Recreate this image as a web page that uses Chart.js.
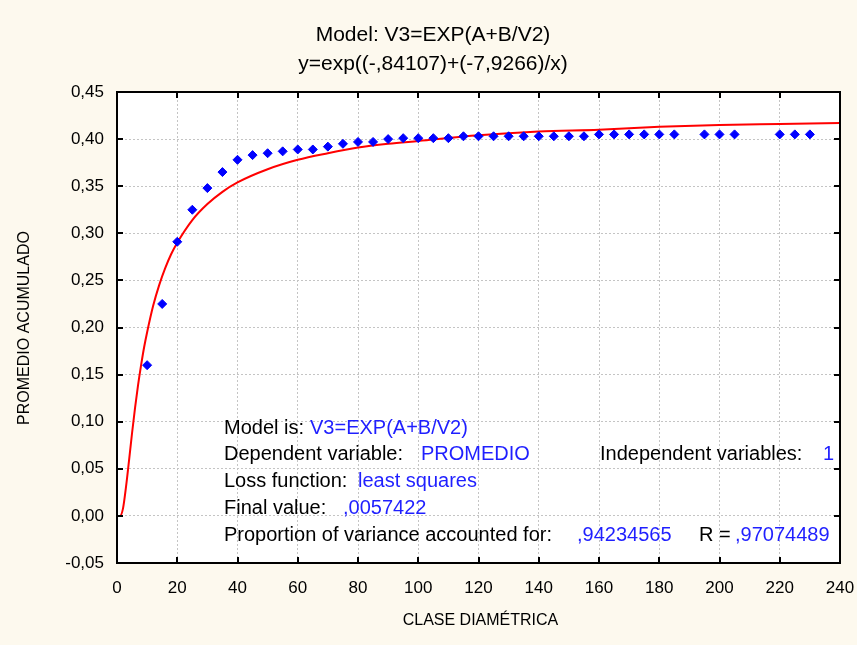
<!DOCTYPE html>
<html>
<head>
<meta charset="utf-8">
<script src="https://cdn.jsdelivr.net/npm/chart.js@4/dist/chart.umd.min.js"></script>
<style>
  html, body { margin: 0; padding: 0; background: #fdf9ee; }
  #wrap { width: 857px; height: 645px; }
</style>
</head>
<body>
<div id="wrap"><canvas id="fitPlot" width="857" height="645"></canvas></div>
<script>
// Observed values (CLASE DIAMÉTRICA vs PROMEDIO ACUMULADO)
const claseX = [10, 15, 20, 25, 30, 35, 40, 45, 50, 55, 60, 65, 70, 75, 80, 85, 90, 95, 100, 105,
    110, 115, 120, 125, 130, 135, 140, 145, 150, 155, 160, 165, 170, 175, 180, 185,
    195, 200, 205, 220, 225, 230];
const promedio = [0.160, 0.225, 0.291, 0.325, 0.348, 0.365, 0.378, 0.383, 0.385, 0.387, 0.389, 0.389,
    0.392, 0.395, 0.397, 0.397, 0.400, 0.401, 0.401, 0.401, 0.401, 0.403, 0.403, 0.403, 0.403,
    0.403, 0.403, 0.403, 0.403, 0.403, 0.405, 0.405, 0.405, 0.405, 0.405, 0.405,
    0.405, 0.405, 0.405, 0.405, 0.405, 0.405];

// Fitted curve
const fitX = [0, 1, 2, 3, 4, 5, 6, 7, 8, 9, 10, 12, 14, 16, 18, 20, 25, 30, 35, 40, 50, 60, 70, 80,
    90, 100, 120, 140, 160, 180, 200, 220, 240];
const fitY = [0.000, 0.000, 0.008, 0.031, 0.059, 0.088, 0.115, 0.139, 0.160, 0.179, 0.195, 0.223,
    0.245, 0.263, 0.278, 0.290, 0.314, 0.331, 0.344, 0.354, 0.368, 0.378, 0.385, 0.391,
    0.395, 0.398, 0.404, 0.408, 0.410, 0.413, 0.415, 0.416, 0.417];

const titleLines = ['Model: V3=EXP(A+B/V2)', 'y=exp((-,84107)+(-7,9266)/x)'];
const xTitle = 'CLASE DIAMÉTRICA';
const yTitle = 'PROMEDIO ACUMULADO';

// Text block inside the plot: [text, colour, x offset from plot left]
const infoLines = [
    [['Model is: ', 'k', 107], ['V3=EXP(A+B/V2)', 'b', 193]],
    [['Dependent variable:', 'k', 107], ['PROMEDIO', 'b', 304], ['Independent variables:', 'k', 483], ['1', 'b', 706]],
    [['Loss function:', 'k', 107], ['least squares', 'b', 241]],
    [['Final value:', 'k', 107], [',0057422', 'b', 226]],
    [['Proportion of variance accounted for:', 'k', 107], [',94234565', 'b', 460], ['R =', 'k', 582], [',97074489', 'b', 618]]
];

const FONT = '"Liberation Sans", Arial, sans-serif';

function toComma(v, d) {
    return v.toFixed(d).replace('.', ',');
}

const decorPlugin = {
    id: 'decor',
    beforeDraw(chart) {
        const { ctx, chartArea: a } = chart;
        ctx.save();
        ctx.fillStyle = '#ffffff';
        ctx.fillRect(a.left, a.top, a.right - a.left, a.bottom - a.top);
        ctx.restore();
    },
    afterDatasetsDraw(chart) {
        const { ctx, chartArea: a, scales } = chart;
        ctx.save();

        // text block
        ctx.font = '20px ' + FONT;
        ctx.textBaseline = 'middle';
        ctx.textAlign = 'left';
        infoLines.forEach((line, i) => {
            const y = a.top + 336 + i * 26.8;
            line.forEach(seg => {
                ctx.fillStyle = seg[1] === 'b' ? '#1f1fff' : '#000000';
                ctx.fillText(seg[0], a.left + seg[2], y);
            });
        });

        // inside tick marks
        ctx.strokeStyle = '#000000';
        ctx.lineWidth = 2;
        const tl = 6;
        ctx.beginPath();
        scales.x.ticks.forEach(t => {
            const px = Math.round(scales.x.getPixelForValue(t.value));
            ctx.moveTo(px, a.top); ctx.lineTo(px, a.top + tl);
            ctx.moveTo(px, a.bottom); ctx.lineTo(px, a.bottom - tl);
        });
        scales.y.ticks.forEach(t => {
            const py = Math.round(scales.y.getPixelForValue(t.value));
            ctx.moveTo(a.left, py); ctx.lineTo(a.left + tl, py);
            ctx.moveTo(a.right, py); ctx.lineTo(a.right - tl, py);
        });
        ctx.stroke();

        // frame
        ctx.lineWidth = 2;
        ctx.strokeRect(a.left, a.top, a.right - a.left, a.bottom - a.top);

        // titles
        ctx.fillStyle = '#000000';
        ctx.textAlign = 'center';
        ctx.font = '21px ' + FONT;
        ctx.fillText(titleLines[0], 433, 35);
        ctx.fillText(titleLines[1], 433, 64);

        // axis titles
        ctx.font = '16px ' + FONT;
        ctx.fillText(xTitle, (a.left + a.right) / 2 + 2, 621);
        ctx.translate(25, 328);
        ctx.rotate(-Math.PI / 2);
        ctx.fillText(yTitle, 0, 0);
        ctx.restore();
    }
};

const ctx = document.getElementById('fitPlot').getContext('2d');

const chart = new Chart(ctx, {
    type: 'scatter',
    data: {
        datasets: [
            {
                label: 'PROMEDIO',
                data: claseX.map((x, i) => ({ x: x, y: promedio[i] })),
                pointStyle: 'rectRot',
                pointRadius: 4.5,
                pointHoverRadius: 4.5,
                backgroundColor: '#0000ff',
                borderColor: '#0000ff',
                borderWidth: 1
            },
            {
                label: 'Model',
                type: 'line',
                data: fitX.map((x, i) => ({ x: x, y: fitY[i] })),
                borderColor: '#ff0000',
                borderWidth: 2,
                pointRadius: 0,
                fill: false,
                cubicInterpolationMode: 'monotone'
            }
        ]
    },
    options: {
        responsive: false,
        animation: false,
        events: [],
        layout: {
            padding: { top: 92, right: 17, left: 0, bottom: 0 }
        },
        scales: {
            x: {
                type: 'linear',
                min: 0,
                max: 240,
                afterFit: s => { s.height = 82; s.paddingRight = 0; s.paddingLeft = 0; },
                ticks: {
                    stepSize: 20,
                    padding: 15,
                    color: '#000000',
                    font: { family: FONT, size: 17 },
                    maxRotation: 0
                },
                grid: {
                    color: '#c4c4c4',
                    lineWidth: 1,
                    drawTicks: false
                },
                border: { display: false, dash: [2, 2] }
            },
            y: {
                min: -0.05,
                max: 0.45,
                afterFit: s => { s.width = 117; s.paddingTop = 0; s.paddingBottom = 0; },
                ticks: {
                    stepSize: 0.05,
                    padding: 13,
                    color: '#000000',
                    font: { family: FONT, size: 17 },
                    callback: v => toComma(v, 2)
                },
                grid: {
                    color: '#c4c4c4',
                    lineWidth: 1,
                    drawTicks: false
                },
                border: { display: false, dash: [2, 2] }
            }
        },
        plugins: {
            legend: { display: false },
            title: { display: false },
            tooltip: { enabled: false }
        }
    },
    plugins: [decorPlugin]
});
</script>
</body>
</html>
